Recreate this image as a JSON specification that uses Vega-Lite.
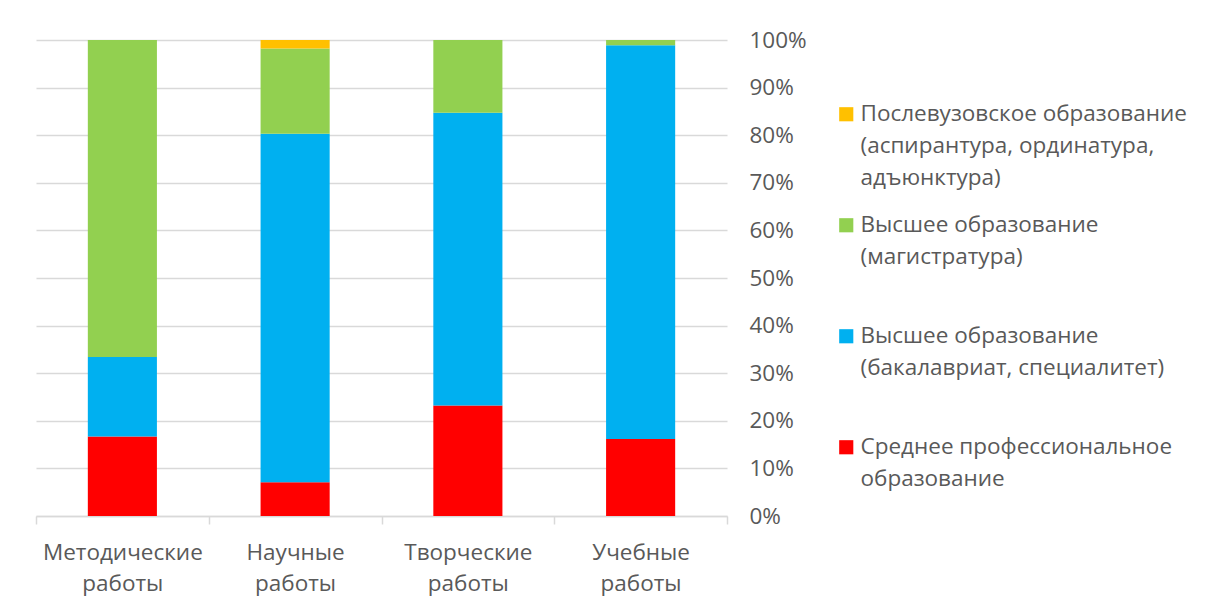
{
  "$schema": "https://vega.github.io/schema/vega-lite/v6.json",
  "width": 691,
  "height": 476,
  "autosize": {"type": "none"},
  "padding": {"left": 36, "top": 40, "right": 479, "bottom": 92},
  "background": "white",
  "config": {
    "font": "Open Sans",
    "view": {"stroke": null},
    "axis": {"labelColor": "#595959", "labelFontSize": 22.5, "labelFont": "Open Sans", "titleFont": "Open Sans"},
    "legend": {"labelFont": "Open Sans"}
  },
  "data": {
    "values": [
      {"work": "Методические работы", "level": "Среднее профессиональное образование", "rank": 1, "share": 16.7},
      {"work": "Методические работы", "level": "Высшее образование (бакалавриат, специалитет)", "rank": 2, "share": 16.7},
      {"work": "Методические работы", "level": "Высшее образование (магистратура)", "rank": 3, "share": 66.6},
      {"work": "Методические работы", "level": "Послевузовское образование (аспирантура, ординатура, адъюнктура)", "rank": 4, "share": 0},
      {"work": "Научные работы", "level": "Среднее профессиональное образование", "rank": 1, "share": 7.1},
      {"work": "Научные работы", "level": "Высшее образование (бакалавриат, специалитет)", "rank": 2, "share": 73.2},
      {"work": "Научные работы", "level": "Высшее образование (магистратура)", "rank": 3, "share": 17.9},
      {"work": "Научные работы", "level": "Послевузовское образование (аспирантура, ординатура, адъюнктура)", "rank": 4, "share": 1.8},
      {"work": "Творческие работы", "level": "Среднее профессиональное образование", "rank": 1, "share": 23.2},
      {"work": "Творческие работы", "level": "Высшее образование (бакалавриат, специалитет)", "rank": 2, "share": 61.5},
      {"work": "Творческие работы", "level": "Высшее образование (магистратура)", "rank": 3, "share": 15.3},
      {"work": "Творческие работы", "level": "Послевузовское образование (аспирантура, ординатура, адъюнктура)", "rank": 4, "share": 0},
      {"work": "Учебные работы", "level": "Среднее профессиональное образование", "rank": 1, "share": 16.2},
      {"work": "Учебные работы", "level": "Высшее образование (бакалавриат, специалитет)", "rank": 2, "share": 82.7},
      {"work": "Учебные работы", "level": "Высшее образование (магистратура)", "rank": 3, "share": 1.1},
      {"work": "Учебные работы", "level": "Послевузовское образование (аспирантура, ординатура, адъюнктура)", "rank": 4, "share": 0}
    ]
  },
  "mark": {"type": "bar", "width": {"band": 0.4}},
  "encoding": {
    "x": {
      "field": "work",
      "type": "nominal",
      "sort": null,
      "scale": {"paddingInner": 0, "paddingOuter": 0},
      "axis": {
        "title": null,
        "labelAngle": 0,
        "labelExpr": "split(datum.label, ' ')",
        "labelLineHeight": 31,
        "labelPadding": 17,
        "tickBand": "extent",
        "tickSize": 8,
        "tickColor": "#d9d9d9",
        "domainColor": "#d9d9d9",
        "tickWidth": 1.5,
        "domainWidth": 1.5,
        "grid": false
      }
    },
    "y": {
      "field": "share",
      "type": "quantitative",
      "stack": "normalize",
      "scale": {"domain": [0, 1]},
      "axis": {
        "title": null,
        "orient": "right",
        "format": ".0%",
        "values": [0, 0.1, 0.2, 0.3, 0.4, 0.5, 0.6, 0.7, 0.8, 0.9, 1],
        "domain": false,
        "ticks": false,
        "labelPadding": 22,
        "grid": true,
        "gridColor": "#d9d9d9",
        "gridWidth": 1.5
      }
    },
    "order": {"field": "rank", "type": "quantitative", "sort": "ascending"},
    "color": {
      "field": "level",
      "type": "nominal",
      "scale": {
        "domain": [
          "Послевузовское образование (аспирантура, ординатура, адъюнктура)",
          "Высшее образование (магистратура)",
          "Высшее образование (бакалавриат, специалитет)",
          "Среднее профессиональное образование"
        ],
        "range": ["#FFC000", "#92D050", "#00B0F0", "#FF0000"]
      },
      "legend": {
        "title": null,
        "orient": "none",
        "legendX": 799,
        "legendY": 63,
        "symbolType": "square",
        "symbolSize": 200,
        "symbolStrokeWidth": 0,
        "labelFontSize": 22.5,
        "labelColor": "#595959",
        "labelOffset": 3,
        "labelLimit": 400,
        "rowPadding": 24,
        "encode": {"labels": {"update": {"lineHeight": {"value": 32}}}},
        "labelExpr": "datum.label == 'Послевузовское образование (аспирантура, ординатура, адъюнктура)' ? ['Послевузовское образование', '(аспирантура, ординатура,', 'адъюнктура)'] : datum.label == 'Высшее образование (магистратура)' ? ['Высшее образование', '(магистратура)', ''] : datum.label == 'Высшее образование (бакалавриат, специалитет)' ? ['Высшее образование', '(бакалавриат, специалитет)', ''] : ['Среднее профессиональное', 'образование', '']"
      }
    }
  }
}
